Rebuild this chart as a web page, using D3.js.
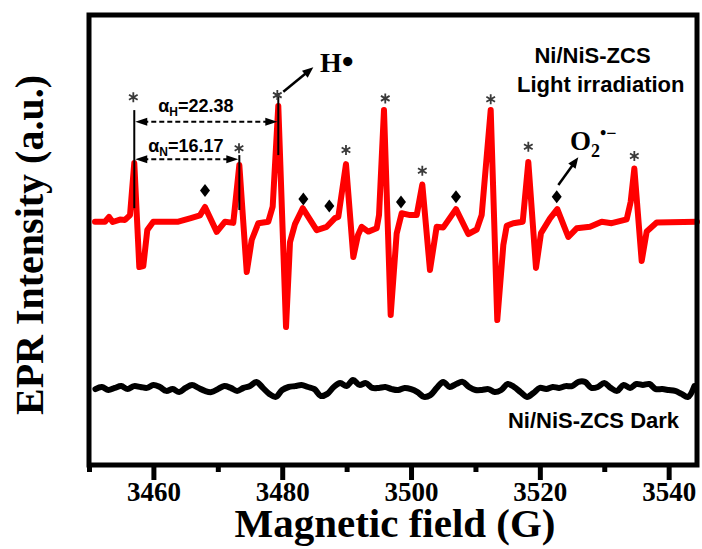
<!DOCTYPE html>
<html>
<head>
<meta charset="utf-8">
<script src="https://cdn.jsdelivr.net/npm/d3@7"></script>
<style>
  body { margin: 0; background: #fff; }
  svg { display: block; }
</style>
</head>
<body>
<svg id="chart" width="702" height="549"></svg>
<script>
// EPR spectrum of Ni/NiS-ZCS under light irradiation (DMPO spin trap)
const lightField = [3450.93, 3452.48, 3453.11, 3453.68, 3454.81, 3455.59, 3456.37, 3457.03, 3457.81, 3458.43,
  3459.05, 3459.98, 3463.87, 3465.68, 3467.23, 3468.01, 3469.83, 3471.12, 3472.40, 3473.34,
  3474.49, 3475.26, 3476.29, 3477.84, 3478.52, 3479.39, 3480.59, 3481.21, 3481.98, 3483.18,
  3485.35, 3486.91, 3488.19, 3488.71, 3489.90, 3491.04, 3491.77, 3492.34, 3493.36, 3494.67,
  3495.03, 3495.80, 3496.84, 3497.77, 3498.55, 3499.84, 3500.88, 3501.75, 3502.94, 3503.98,
  3505.01, 3506.98, 3508.89, 3510.20, 3510.97, 3512.37, 3513.39, 3514.33, 3514.85, 3515.88,
  3517.34, 3518.21, 3519.40, 3520.18, 3521.58, 3522.71, 3524.42, 3525.72, 3527.79, 3529.60,
  3531.16, 3533.48, 3534.10, 3534.67, 3535.81, 3536.59, 3538.14, 3544.40];
const lightIntensity = [0, 0, 1.6, -0.1, 0.7, 0.6, 2.2, 19.6, -15.1, -14.8,
  -2.8, 0, 0, 1.1, 2.1, 4.9, -3.4, 0, -0.4, 18.9,
  -16.8, -6.1, -0.5, 0, 5.0, 38.6, -35.1, -6.8, -0.8, 4.5,
  -2.8, -1.7, 1.2, 1.6, 19.2, -11.8, -4.4, -1.7, -3.3, -2.2,
  2.2, 37.2, -31.1, -3.9, 2.8, 2.2, 2.2, 12.4, -16.1, -1.7,
  -1.9, 4.2, -4.1, -2.6, 2.2, 37.2, -32.8, -7.8, -1.4, -0.5,
  0, 19.9, -15.4, -3.8, 1.1, 4.2, -5.1, -2.2, -1.7, 0,
  -0.5, 0.8, 6.6, 17.7, -13.1, -3.3, -0.3, 0];

// Same sample kept in the dark
const darkField = [3451, 3452, 3453, 3454, 3455, 3456, 3457, 3458, 3459, 3460,
  3461, 3462, 3463, 3464, 3465, 3466, 3467, 3468, 3469, 3470,
  3471, 3472, 3473, 3474, 3475, 3476, 3477, 3478, 3479, 3480,
  3481, 3482, 3483, 3484, 3485, 3486, 3487, 3488, 3489, 3490,
  3491, 3492, 3493, 3494, 3495, 3496, 3497, 3498, 3499, 3500,
  3501, 3502, 3503, 3504, 3505, 3506, 3507, 3508, 3509, 3510,
  3511, 3512, 3513, 3514, 3515, 3516, 3517, 3518, 3519, 3520,
  3521, 3522, 3523, 3524, 3525, 3526, 3527, 3528, 3529, 3530,
  3531, 3532, 3533, 3534, 3535, 3536, 3537, 3538, 3539, 3540,
  3541, 3542, 3543, 3544];
const darkIntensity = [-55.8, -55.1, -56.1, -55.4, -54.8, -55.8, -54.8, -55.1, -55.4, -54.4,
  -55.1, -56.4, -55.8, -56.8, -55.4, -54.4, -55.4, -56.4, -56.8, -55.8,
  -54.8, -55.4, -56.4, -55.4, -54.8, -53.4, -55.4, -57.4, -58.4, -56.1,
  -55.1, -54.8, -54.4, -55.1, -55.8, -58.1, -57.4, -55.1, -53.8, -54.8,
  -52.8, -54.4, -53.8, -55.4, -55.4, -55.1, -55.8, -56.1, -55.4, -55.8,
  -56.8, -58.4, -57.8, -55.4, -53.4, -55.1, -54.1, -53.4, -55.1, -56.1,
  -56.1, -55.8, -56.8, -56.1, -54.1, -55.1, -56.8, -58.4, -57.1, -55.4,
  -55.8, -55.1, -55.4, -54.8, -54.8, -53.4, -53.4, -55.4, -55.1, -53.8,
  -55.4, -56.4, -54.4, -55.4, -54.1, -54.4, -54.1, -55.8, -55.8, -56.1,
  -56.4, -57.4, -58.4, -54.8];

const xTicks = [3460, 3480, 3500, 3520, 3540];
const xMinorTicks = [3450, 3470, 3490, 3510, 3530];

// DMPO-H hyperfine lines (*) and DMPO-OOH lines (diamonds)
const starField = [3456.88, 3473.29, 3479.24, 3489.90, 3496.00, 3501.75, 3512.37, 3518.21, 3534.67];
const starLevel = [41.5, 24.5, 42.2, 23.9, 41.1, 17.0, 40.8, 25.0, 21.9];
const diamondField = [3468.01, 3483.28, 3487.31, 3498.44, 3506.98, 3522.62];
const diamondLevel = [10.4, 7.6, 5.2, 6.6, 8.3, 8.3];

// Hyperfine splitting constants (G)
const splitLabels = ["22.38", "16.17"];

const serif = "'Liberation Serif', 'Times New Roman', serif";
const sans = "'Liberation Sans', Arial, sans-serif";

const svg = d3.select("#chart");
const x = d3.scaleLinear().domain([3450, 3544.4]).range([89, 697]);
const y = d3.scaleLinear().domain([-81.1, 68.9]).range([465, 15]);

// Spectra
const lightData = lightField.map((f, i) => [f, lightIntensity[i]]);
const darkData = darkField.map((f, i) => [f, darkIntensity[i]]);

svg.append("path")
  .datum(darkData)
  .attr("fill", "none")
  .attr("stroke", "#000")
  .attr("stroke-width", 6)
  .attr("stroke-linejoin", "round")
  .attr("stroke-linecap", "round")
  .attr("d", d3.line().x(d => x(d[0])).y(d => y(d[1])).curve(d3.curveCatmullRom));

svg.append("path")
  .datum(lightData)
  .attr("fill", "none")
  .attr("stroke", "#ff0000")
  .attr("stroke-width", 6)
  .attr("stroke-linejoin", "round")
  .attr("stroke-linecap", "round")
  .attr("d", d3.line().x(d => x(d[0])).y(d => y(d[1])));

// Axis ticks
const major = svg.append("g").attr("transform", "translate(0,465)")
  .call(d3.axisBottom(x).tickValues(xTicks).tickSize(15).tickPadding(2).tickFormat(d3.format("d")));
const minor = svg.append("g").attr("transform", "translate(0,465)")
  .call(d3.axisBottom(x).tickValues(xMinorTicks).tickSize(7).tickFormat(""));
[major, minor].forEach(g => {
  g.select(".domain").remove();
  g.selectAll(".tick line").attr("stroke", "#000").attr("stroke-width", 5);
});
major.selectAll(".tick text")
  .attr("fill", "#000")
  .style("font-family", serif)
  .style("font-weight", "bold")
  .style("font-size", "27px");

// Frame
svg.append("rect")
  .attr("x", 89).attr("y", 15)
  .attr("width", 697 - 89).attr("height", 465 - 15)
  .attr("fill", "none")
  .attr("stroke", "#000")
  .attr("stroke-width", 5);

// Axis titles
svg.append("text")
  .attr("x", 395).attr("y", 537)
  .attr("text-anchor", "middle")
  .style("font-family", serif).style("font-weight", "bold").style("font-size", "41px")
  .text("Magnetic field (G)");

svg.append("text")
  .attr("transform", "translate(43,245) rotate(-90)")
  .attr("text-anchor", "middle")
  .style("font-family", serif).style("font-weight", "bold").style("font-size", "40px")
  .text("EPR Intensity (a.u.)");

// Splitting guides
const guideField = [3457.03, 3473.34, 3479.39];
const guideTop = [37.2, 22.2, 42.9];
const guideBottom = [4.5, 3.9, 22.2];
svg.append("g").selectAll("line")
  .data(guideField)
  .join("line")
  .attr("x1", d => x(d)).attr("x2", d => x(d))
  .attr("y1", (d, i) => y(guideTop[i]))
  .attr("y2", (d, i) => y(guideBottom[i]))
  .attr("stroke", "#000")
  .attr("stroke-width", 2);

function arrowHead(g, x0, y0, x1, y1, len, half) {
  const a = Math.atan2(y1 - y0, x1 - x0);
  const bx = x1 - len * Math.cos(a), by = y1 - len * Math.sin(a);
  const px = -Math.sin(a) * half, py = Math.cos(a) * half;
  g.append("path")
    .attr("d", `M${x1},${y1}L${bx + px},${by + py}L${bx - px},${by - py}Z`)
    .attr("fill", "#000");
}

function dimArrow(f0, f1, level) {
  const g = svg.append("g");
  const xa = x(f0) + 1, xb = x(f1) - 1, yy = y(level);
  g.append("line")
    .attr("x1", xa + 8).attr("x2", xb - 8)
    .attr("y1", yy).attr("y2", yy)
    .attr("stroke", "#000").attr("stroke-width", 2)
    .attr("stroke-dasharray", "5,3");
  arrowHead(g, xb, yy, xa, yy, 12, 4);
  arrowHead(g, xa, yy, xb, yy, 12, 4);
}
dimArrow(guideField[0], guideField[2], 33.3);
dimArrow(guideField[0], guideField[1], 20.8);

function splitText(f, level, sub, value, dx) {
  const t = svg.append("text")
    .attr("x", x(f) + dx).attr("y", y(level))
    .style("font-family", sans).style("font-weight", "bold").style("font-size", "18px")
    .attr("fill", "#000");
  t.append("tspan").text("α");
  t.append("tspan").attr("dy", 4).style("font-size", "12px").text(sub);
  t.append("tspan").attr("dy", -4).text("=" + value);
}
splitText(guideField[0], 36.7, "H", splitLabels[0], 24);
splitText(guideField[0], 23.3, "N", splitLabels[1], 14);

// Peak markers
svg.append("g").selectAll("path")
  .data(starField)
  .join("path")
  .attr("transform", (d, i) => `translate(${x(d)},${y(starLevel[i])})`)
  .attr("d", d3.symbol().type(d3.symbolAsterisk).size(70))
  .attr("fill", "none")
  .attr("stroke", "#3a3a3a")
  .attr("stroke-width", 1.8);

svg.append("g").selectAll("path")
  .data(diamondField)
  .join("path")
  .attr("transform", (d, i) => `translate(${x(d)},${y(diamondLevel[i])})`)
  .attr("d", "M0,-6.5L5,0L0,6.5L-5,0Z")
  .attr("fill", "#000");

// Radical labels with pointers
function pointer(f0, v0, f1, v1) {
  const g = svg.append("g");
  const x0 = x(f0), y0 = y(v0), x1 = x(f1), y1 = y(v1);
  const a = Math.atan2(y1 - y0, x1 - x0);
  g.append("line")
    .attr("x1", x0).attr("y1", y0)
    .attr("x2", x1 - 8 * Math.cos(a)).attr("y2", y1 - 8 * Math.sin(a))
    .attr("stroke", "#000").attr("stroke-width", 2.5);
  arrowHead(g, x0, y0, x1, y1, 11, 4.5);
}
pointer(3480.17, 43.3, 3484.83, 51.5);
pointer(3522.87, 12.2, 3525.97, 21.5);

const hLabel = svg.append("text")
  .attr("x", 320).attr("y", 71.7)
  .style("font-family", serif).style("font-weight", "bold").style("font-size", "28px");
hLabel.append("tspan").text("H");
hLabel.append("tspan").attr("dy", 1).style("font-size", "34px").text("•");

const o2 = svg.append("text")
  .attr("x", 570).attr("y", 150)
  .style("font-family", serif).style("font-weight", "bold").style("font-size", "27px");
o2.append("tspan").text("O");
o2.append("tspan").attr("dy", 7).style("font-size", "18px").text("2");
o2.append("tspan").attr("dy", -18).style("font-size", "18px").text("•−");

// Sample labels
const labelStyle = t => t.style("font-family", sans).style("font-weight", "bold").style("font-size", "22px")
  .attr("text-anchor", "middle").attr("fill", "#000");
labelStyle(svg.append("text").attr("x", 592.5).attr("y", 63.3).text("Ni/NiS-ZCS"));
labelStyle(svg.append("text").attr("x", 600.8).attr("y", 91.7).text("Light irradiation"));
labelStyle(svg.append("text").attr("x", 593.5).attr("y", 428).text("Ni/NiS-ZCS Dark"));
</script>
</body>
</html>
